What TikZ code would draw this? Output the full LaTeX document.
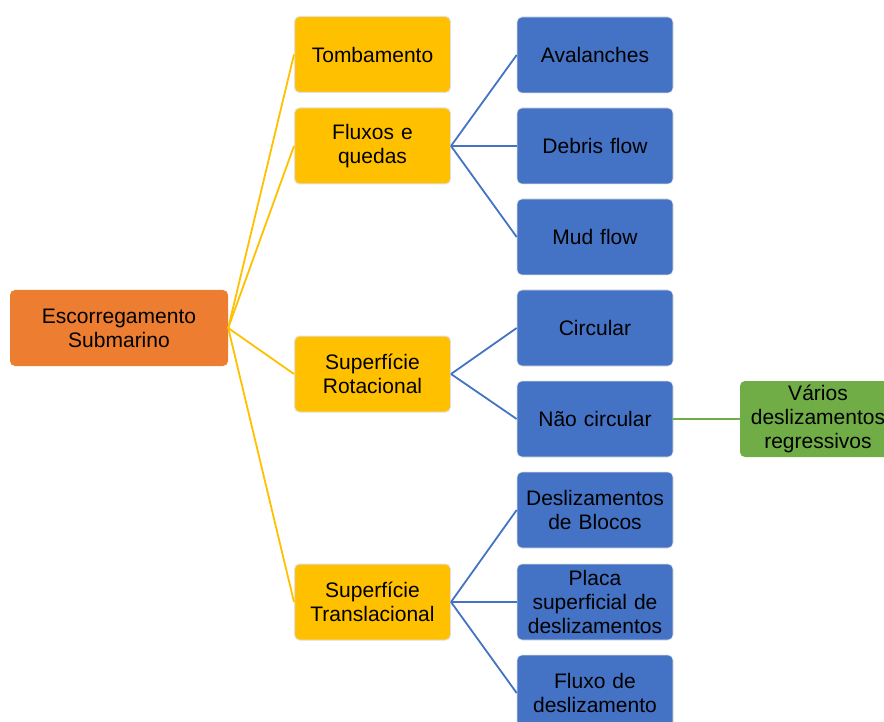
\documentclass[tikz,border=0pt]{standalone}
\usepackage{fontspec}
\setmainfont{Liberation Sans}
\newcommand\colroot{119}
\newcommand\colcat{372.5}
\newcommand\coltype{595}
\newcommand\colsub{818}
\usetikzlibrary{positioning}
\definecolor{rootorange}{HTML}{ED7D31}
\definecolor{catyellow}{HTML}{FFC000}
\definecolor{typeblue}{HTML}{4472C4}
\definecolor{subgreen}{HTML}{70AD47}
\tikzset{box/.style={rectangle,rounded corners=5pt,minimum width=156pt,minimum height=76pt,text width=150pt,align=center,inner sep=0pt,font=\fontsize{21}{24}\selectfont},
  rootbox/.style={box,fill=rootorange,minimum width=218pt,text width=210pt},
  catbox/.style={box,fill=catyellow,draw=black!12,line width=1pt},
  typebox/.style={box,fill=typeblue,draw=black!12,line width=0.6pt},
  subbox/.style={box,fill=subgreen},
  catline/.style={draw=catyellow,line width=1.8pt},
  typeline/.style={draw=typeblue,line width=1.8pt},
  subline/.style={draw=subgreen,line width=1.8pt}}

\begin{document}
\begin{tikzpicture}[x=1pt,y=-1pt]
                \useasboundingbox (0,0) rectangle (884,722);
                \clip (0,0) rectangle (884,722);

                \node[rootbox] (root) at (\colroot,328) {Escorregamento\\Submarino};

                \node[catbox] (tomb) at (\colcat,54.5) {Tombamento};
                \node[catbox] (flux) at (\colcat,146) {Fluxos e\\quedas};
                \node[catbox] (rot) at (\colcat,374) {Superfície\\Rotacional};
                \node[catbox] (trans) at (\colcat,602) {Superfície\\Translacional};

                \node[typebox] (aval) at (\coltype,55) {Avalanches};
                \node[typebox] (debris) at (\coltype,146) {Debris flow};
                \node[typebox] (mud) at (\coltype,237) {Mud flow};
                \node[typebox] (circ) at (\coltype,328) {Circular};
                \node[typebox] (ncirc) at (\coltype,419) {Não circular};
                \node[typebox] (blocos) at (\coltype,510) {Deslizamentos\\de Blocos};
                \node[typebox] (placa) at (\coltype,602) {Placa\\superficial de\\deslizamentos};
                \node[typebox] (fluxdes) at (\coltype,693) {Fluxo de\\deslizamento};

                \node[subbox] (varios) at (\colsub,419) {Vários\\deslizamentos\\regressivos};

                \foreach \c in {tomb,flux,rot,trans}{\draw[catline] (root.east) -- (\c.west);}
                \foreach \t in {aval,debris,mud}{\draw[typeline] (flux.east) -- (\t.west);}
                \foreach \t in {circ,ncirc}{\draw[typeline] (rot.east) -- (\t.west);}
                \foreach \t in {blocos,placa,fluxdes}{\draw[typeline] (trans.east) -- (\t.west);}
                \draw[subline] (ncirc.east) -- (varios.west);
            \end{tikzpicture}
\end{document}
